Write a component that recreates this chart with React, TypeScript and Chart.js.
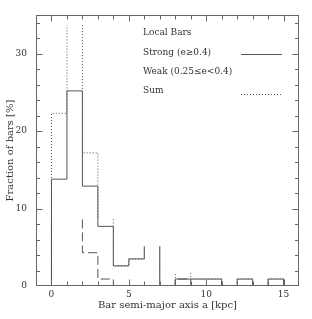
import React, { useEffect, useRef } from "react";
import { Chart, registerables } from "chart.js";

Chart.register(...registerables);

// ---- data ----
const binEdges = [0, 1, 2, 3, 4, 5, 6, 7, 8, 9, 10, 11, 12, 13, 14, 15];
const strongPct = [13.8, 25.2, 12.9, 7.7, 2.6, 3.5, 5.1, 0, 0.9, 0.9, 0.9, 0, 0.9, 0, 0.9];
const weakPct = [8.6, 8.6, 4.3, 0.9, 0, 0, 0, 0, 0.9, 0, 0, 0, 0, 0, 0];
const sumPct = [22.3, 33.7, 17.2, 8.6, 2.6, 3.5, 5.1, 0, 1.7, 0.9, 0.9, 0, 0.9, 0, 0.9];
const xTickLabels = [0, 5, 10, 15];
const yTickLabels = [0, 10, 20, 30];
const xRange = [-1, 16];
const yRange = [0, 35];
const legendTitle = "Local Bars";
const seriesNames = ["Strong (e\u22650.4)", "Weak (0.25\u2264e<0.4)", "Sum"];
const xTitle = "Bar semi-major axis a [kpc]";
const yTitle = "Fraction of bars [%]";

// bins whose top edge is not drawn in the reference (style only)
const strongHiddenTops = [6];
const weakHiddenTops = [0, 1];
const sumHiddenTops = [1, 3, 6, 8];

const LINE = "#555";
const AXIS = "#666";
const TEXT = "#333";
const FONT = "'DejaVu Serif', serif";

function stepPoints(values: number[], edges: number[]) {
  const pts: { x: number; y: number }[] = [{ x: edges[0], y: 0 }];
  values.forEach((v, i) => {
    const right = i + 1 < edges.length ? edges[i + 1] : edges[i] + (edges[1] - edges[0]);
    pts.push({ x: edges[i], y: v });
    pts.push({ x: right, y: v });
  });
  pts.push({ x: pts[pts.length - 1].x, y: 0 });
  return pts;
}

function hideTops(hidden: number[]) {
  return {
    borderColor: (c: any) => {
      const idx = c.p0DataIndex;
      if (idx % 2 === 1 && hidden.includes((idx - 1) / 2)) return "rgba(0,0,0,0)";
      return undefined;
    },
  };
}

const framePlugin = {
  id: "frameTicksLegend",
  afterDatasetsDraw(chart: any) {
    const { ctx, chartArea: a, scales } = chart;
    const xs = scales.x;
    const ys = scales.y;
    const L = Math.round(a.left) + 0.5;
    const R = Math.round(a.right) - 0.5;
    const T = Math.round(a.top) + 0.5;
    const B = Math.round(a.bottom) - 0.5;
    ctx.save();
    ctx.strokeStyle = AXIS;
    ctx.lineWidth = 1;
    ctx.setLineDash([]);
    ctx.strokeRect(L, T, R - L, B - T);
    ctx.beginPath();
    for (let v = Math.ceil(xs.min); v <= Math.floor(xs.max); v++) {
      const px = Math.round(xs.getPixelForValue(v)) + 0.5;
      if (px <= L + 1 || px >= R - 1) continue;
      const len = v % 5 === 0 ? 6 : 4;
      ctx.moveTo(px, B);
      ctx.lineTo(px, B - len);
      ctx.moveTo(px, T);
      ctx.lineTo(px, T + len);
    }
    for (let v = 0; v <= ys.max; v += 2) {
      const py = Math.round(ys.getPixelForValue(v)) + 0.5;
      if (py <= T + 1 || py >= B - 1) continue;
      const len = v % 10 === 0 ? 6 : 3.5;
      ctx.moveTo(L, py);
      ctx.lineTo(L + len, py);
      ctx.moveTo(R, py);
      ctx.lineTo(R - len, py);
    }
    ctx.stroke();

    // legend
    const tx = a.left + 107;
    ctx.fillStyle = TEXT;
    ctx.font = `9px ${FONT}`;
    ctx.textBaseline = "middle";
    ctx.textAlign = "left";
    const rows = [a.top + 18, a.top + 37.5, a.top + 56.5, a.top + 76];
    ctx.fillText(legendTitle, tx, rows[0]);
    seriesNames.forEach((n, i) => ctx.fillText(n, tx, rows[i + 1]));
    const sx0 = a.left + 205;
    const sx1 = a.left + 246;
    ctx.strokeStyle = LINE;
    ctx.beginPath();
    ctx.moveTo(sx0, Math.round(rows[1] + 1.5) + 0.5);
    ctx.lineTo(sx1, Math.round(rows[1] + 1.5) + 0.5);
    ctx.stroke();
    ctx.setLineDash([1, 2]);
    ctx.beginPath();
    ctx.moveTo(sx0, Math.round(rows[3] + 3) + 0.5);
    ctx.lineTo(sx1, Math.round(rows[3] + 3) + 0.5);
    ctx.stroke();
    ctx.restore();
  },
};

export default function App() {
  const ref = useRef<HTMLCanvasElement | null>(null);
  useEffect(() => {
    if (!ref.current) return;
    const chart = new Chart(ref.current, {
      type: "line",
      data: {
        datasets: [
          {
            label: seriesNames[0],
            data: stepPoints(strongPct, binEdges),
            borderColor: LINE,
            borderWidth: 1,
            borderDash: [1000, 0],
            pointRadius: 0,
            fill: false,
            segment: hideTops(strongHiddenTops),
          },
          {
            label: seriesNames[1],
            data: stepPoints(weakPct, binEdges),
            borderColor: LINE,
            borderWidth: 1,
            borderDash: [9, 4],
            pointRadius: 0,
            fill: false,
            segment: hideTops(weakHiddenTops),
          },
          {
            label: seriesNames[2],
            data: stepPoints(sumPct, binEdges),
            borderColor: LINE,
            borderWidth: 1,
            borderDash: [1, 2],
            pointRadius: 0,
            fill: false,
            segment: hideTops(sumHiddenTops),
          },
        ],
      },
      options: {
        animation: false,
        responsive: true,
        maintainAspectRatio: false,
        layout: { padding: { top: 15, right: 13, left: 0, bottom: 0 } },
        plugins: { legend: { display: false }, tooltip: { enabled: false } },
        scales: {
          x: {
            type: "linear",
            min: xRange[0],
            max: xRange[1],
            grid: { display: false, drawTicks: false },
            border: { display: false },
            afterBuildTicks: (s: any) => {
              s.ticks = xTickLabels.map((v) => ({ value: v }));
            },
            afterFit: (s: any) => {
              s.height = 33;
            },
            ticks: {
              padding: 3,
              color: TEXT,
              font: { family: FONT, size: 9 },
              maxRotation: 0,
              autoSkip: false,
            },
            title: {
              display: true,
              text: xTitle,
              color: TEXT,
              font: { family: FONT, size: 10 },
              padding: { top: 0, bottom: 8 },
            },
          },
          y: {
            type: "linear",
            min: yRange[0],
            max: yRange[1],
            grid: { display: false, drawTicks: false },
            border: { display: false },
            afterBuildTicks: (s: any) => {
              s.ticks = yTickLabels.map((v) => ({ value: v }));
            },
            afterFit: (s: any) => {
              s.width = 36;
            },
            ticks: {
              padding: 9,
              color: TEXT,
              font: { family: FONT, size: 9 },
              autoSkip: false,
            },
            title: {
              display: true,
              text: yTitle,
              color: TEXT,
              font: { family: FONT, size: 10 },
              padding: { top: 4, bottom: 0 },
            },
          },
        },
      },
      plugins: [framePlugin],
    });
    return () => chart.destroy();
  }, []);
  return (
    <div style={{ position: "absolute", left: 0, top: 0, width: 312, height: 319, background: "#fff" }}>
      <canvas ref={ref} />
    </div>
  );
}
